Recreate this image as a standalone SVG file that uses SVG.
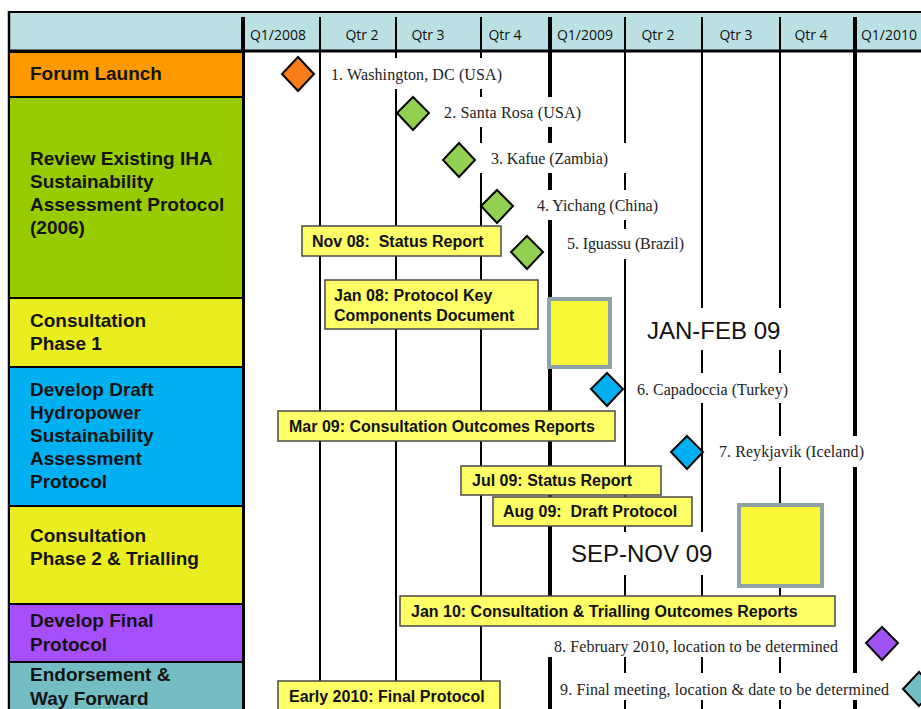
<svg xmlns="http://www.w3.org/2000/svg" width="921" height="709" viewBox="0 0 921 709">
<style>
.row{stroke:#000;stroke-width:2}
.rt{font-family:"Liberation Sans",Arial,sans-serif;font-weight:bold;font-size:19px;fill:#141414}
.hd{font-family:"Open Sans","Liberation Sans",sans-serif;font-size:14px;fill:#111;text-anchor:middle}
.g{stroke:#000;stroke-width:2}
.gt{stroke:#000;stroke-width:4}
.lb{fill:#fff}
.lt{font-family:"Liberation Serif","Times New Roman",serif;font-size:16px;fill:#222}
.dm{stroke:#000;stroke-width:2}
.ms{fill:#FFFF66;stroke:#4a4a4a;stroke-width:1.5}
.mt{font-family:"Liberation Sans",Arial,sans-serif;font-weight:bold;font-size:16px;fill:#111}
.big{fill:#F8F838;stroke:#8FA2A5;stroke-width:4}
.pt{font-family:"Liberation Sans",Arial,sans-serif;font-size:24px;fill:#111}
</style>
<rect x="0" y="0" width="921" height="709" fill="#fff"/>
<!-- header -->
<g id="header">
<rect x="9" y="12" width="913" height="39" fill="#BBE0E4"/>
<line x1="8" y1="12" x2="921" y2="12" stroke="#000" stroke-width="2"/>
<line x1="8" y1="51" x2="921" y2="51" stroke="#000" stroke-width="3"/>
<line x1="9" y1="11" x2="9" y2="709" stroke="#000" stroke-width="2.5"/>
<text class="hd" x="278" y="40">Q1/2008</text>
<text class="hd" x="362" y="40">Qtr 2</text>
<text class="hd" x="428" y="40">Qtr 3</text>
<text class="hd" x="505" y="40">Qtr 4</text>
<text class="hd" x="585" y="40">Q1/2009</text>
<text class="hd" x="658" y="40">Qtr 2</text>
<text class="hd" x="736" y="40">Qtr 3</text>
<text class="hd" x="811" y="40">Qtr 4</text>
<text class="hd" x="889" y="40">Q1/2010</text>
</g>
<!-- grid -->
<g id="connectors">
<line class="gt" x1="243" y1="17" x2="243" y2="709"/>
<line class="g" x1="320" y1="17" x2="320" y2="709"/>
<line class="g" x1="396" y1="17" x2="396" y2="709"/>
<line class="g" x1="481" y1="17" x2="481" y2="709"/>
<line class="gt" x1="550" y1="17" x2="550" y2="709"/>
<line class="g" x1="625" y1="17" x2="625" y2="709"/>
<line class="g" x1="702" y1="17" x2="702" y2="709"/>
<line class="g" x1="780" y1="17" x2="780" y2="709"/>
<line class="gt" x1="855" y1="17" x2="855" y2="709"/>
</g>
<!-- phases -->
<g id="phase-forum"><rect class="row" x="9" y="52" width="234" height="45" fill="#FF9900"/><text class="rt" x="30" y="80">Forum Launch</text></g>
<g id="phase-review"><rect class="row" x="9" y="97" width="234" height="201" fill="#99CC00"/>
<text class="rt" x="30" y="165">Review Existing IHA</text><text class="rt" x="30" y="188">Sustainability</text><text class="rt" x="30" y="211">Assessment Protocol</text><text class="rt" x="30" y="234">(2006)</text></g>
<g id="phase-consult1"><rect class="row" x="9" y="298" width="234" height="69" fill="#EAEE1E"/>
<text class="rt" x="30" y="327">Consultation</text><text class="rt" x="30" y="350">Phase 1</text></g>
<g id="phase-draft"><rect class="row" x="9" y="367" width="234" height="139" fill="#00B0F0"/>
<text class="rt" x="30" y="396">Develop Draft</text><text class="rt" x="30" y="419">Hydropower</text><text class="rt" x="30" y="442">Sustainability</text><text class="rt" x="30" y="465">Assessment</text><text class="rt" x="30" y="488">Protocol</text></g>
<g id="phase-consult2"><rect class="row" x="9" y="506" width="234" height="98" fill="#EAEE1E"/>
<text class="rt" x="30" y="542">Consultation</text><text class="rt" x="30" y="565">Phase 2 &amp; Trialling</text></g>
<g id="phase-final"><rect class="row" x="9" y="604" width="234" height="58" fill="#A64FFA"/>
<text class="rt" x="30" y="627">Develop Final</text><text class="rt" x="30" y="651">Protocol</text></g>
<g id="phase-endorse"><rect class="row" x="9" y="662" width="234" height="52" fill="#74BEC3"/>
<text class="rt" x="30" y="681">Endorsement &amp;</text><text class="rt" x="30" y="705">Way Forward</text></g>
<!-- period squares -->
<g id="period-janfeb"><rect x="637" y="308" width="158" height="42" class="lb"/><rect class="big" x="549" y="299" width="61" height="68"/><text class="pt" x="647" y="339">JAN-FEB 09</text></g>
<g id="period-sepnov"><rect x="560" y="532" width="163" height="43" class="lb"/><rect class="big" x="739" y="505" width="83" height="81"/><text class="pt" x="571" y="562">SEP-NOV 09</text></g>
<!-- meetings -->
<g id="meeting-1"><rect class="lb" x="321" y="58" width="201" height="31"/><polygon class="dm" fill="#FA7D1C" points="298,57 314,74 298,91 282,74"/><text class="lt" x="331" y="80" textLength="171">1. Washington, DC (USA)</text></g>
<g id="meeting-2"><rect class="lb" x="432" y="97" width="168" height="30"/><polygon class="dm" fill="#92D050" points="413,97 429,113 413,130 397,113"/><text class="lt" x="444" y="118" textLength="137">2. Santa Rosa (USA)</text></g>
<g id="meeting-3"><rect class="lb" x="478" y="143" width="150" height="30"/><polygon class="dm" fill="#92D050" points="459,143 475,160 459,177 443,160"/><text class="lt" x="491" y="164" textLength="117">3. Kafue (Zambia)</text></g>
<g id="meeting-4"><rect class="lb" x="525" y="190" width="153" height="30"/><polygon class="dm" fill="#92D050" points="497,190 513,206 497,223 481,206"/><text class="lt" x="537" y="211" textLength="121">4. Yichang (China)</text></g>
<g id="meeting-5"><rect class="lb" x="555" y="229" width="145" height="30"/><polygon class="dm" fill="#92D050" points="527,236 543,252 527,269 511,252"/><text class="lt" x="567" y="249" textLength="117">5. Iguassu (Brazil)</text></g>
<g id="meeting-6"><rect class="lb" x="627" y="373" width="181" height="30"/><polygon class="dm" fill="#00B0F0" points="607,373 623,389 607,406 591,389"/><text class="lt" x="637" y="395" textLength="151">6. Capadoccia (Turkey)</text></g>
<g id="meeting-7"><rect class="lb" x="709" y="436" width="175" height="31"/><polygon class="dm" fill="#00B0F0" points="687,436 703,452 687,469 671,452"/><text class="lt" x="719" y="457" textLength="145">7. Reykjavik (Iceland)</text></g>
<g id="meeting-8"><rect class="lb" x="546" y="626" width="304" height="31"/><polygon class="dm" fill="#A152F5" points="882,627 898,643 882,660 866,643"/><text class="lt" x="554" y="652" textLength="284">8. February 2010, location to be determined</text></g>
<g id="meeting-9"><rect class="lb" x="555" y="673" width="343" height="27"/><polygon class="dm" fill="#73BEC4" points="919,672 935,689 919,706 903,689"/><text class="lt" x="560" y="695" textLength="329">9. Final meeting, location &amp; date to be determined</text></g>
<!-- deliverables -->
<g id="deliv-nov08"><rect class="ms" x="302" y="226" width="199" height="30"/><text class="mt" x="312" y="247" xml:space="preserve">Nov 08:  Status Report</text></g>
<g id="deliv-jan08"><rect class="ms" x="325" y="280" width="213" height="49"/><text class="mt" x="334" y="301">Jan 08: Protocol Key</text><text class="mt" x="334" y="321">Components Document</text></g>
<g id="deliv-mar09"><rect class="ms" x="278" y="411" width="337" height="30"/><text class="mt" x="289" y="432">Mar 09: Consultation Outcomes Reports</text></g>
<g id="deliv-jul09"><rect class="ms" x="461" y="466" width="200" height="29"/><text class="mt" x="472" y="486">Jul 09: Status Report</text></g>
<g id="deliv-aug09"><rect class="ms" x="493" y="497" width="199" height="29"/><text class="mt" x="503" y="517" xml:space="preserve">Aug 09:  Draft Protocol</text></g>
<g id="deliv-jan10"><rect class="ms" x="400" y="596" width="435" height="30"/><text class="mt" x="411" y="617">Jan 10: Consultation &amp; Trialling Outcomes Reports</text></g>
<g id="deliv-early2010"><rect class="ms" x="278" y="681" width="222" height="34"/><text class="mt" x="289" y="702">Early 2010: Final Protocol</text></g>
</svg>
